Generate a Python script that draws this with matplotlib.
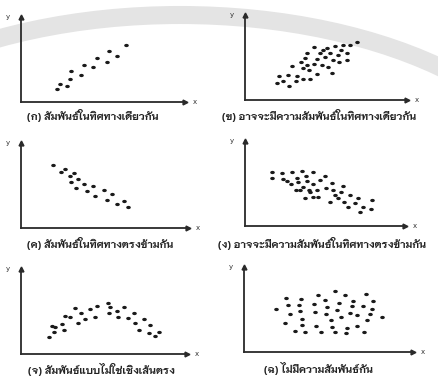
import matplotlib
matplotlib.use("Agg")
import matplotlib.pyplot as plt
import numpy as np
from matplotlib.patches import Arc
from matplotlib.path import Path

# ---- data (units = offsets from each panel's origin) ----
p1_x = [36, 39.3, 46, 49.3, 50.3, 60.3, 63.7, 72.7, 76.7, 86, 88.3, 96, 105.3]
p1_y = [12.7, 18.3, 15.7, 23.3, 31, 26.7, 37.3, 34.7, 44.3, 40, 50.7, 45.7, 57.3]

p2_x = [31.7, 34.3, 37.7, 43.3, 44.3, 46.7, 51, 52.3, 56, 58.3, 60, 62.3, 64.3, 65, 69, 69,
        71.7, 72.3, 75, 76.7, 80, 82.3, 83.3, 85, 86.7, 87.7, 90, 93.3, 94.3, 95.7, 97.7,
        101.7, 102.3, 105, 112.3, 57.7, 61.7, 78.3]
p2_y = [16.7, 24, 19.3, 25, 14.3, 34, 19, 24, 38.3, 21, 41.7, 46.7, 30, 20.7, 52.7, 35.7,
        41.3, 26, 46.7, 35, 42.7, 52.3, 32.7, 47.3, 27.3, 40, 54.3, 45, 38.3, 50, 55,
        46.7, 40, 55, 58.3, 31.7, 35, 50]

p3_x = [32, 40, 44.3, 48.7, 53.3, 50, 56.7, 55.3, 62.7, 66, 72, 74.3, 83.3, 86, 91, 96, 102.7, 106.7]
p3_y = [63.3, 55.7, 59, 51.7, 55, 45.7, 49, 40, 44.3, 37.3, 42.3, 32.3, 37.7, 28.3, 34.3, 24, 27.3, 21]

p4_x = [26.7, 26.7, 36.7, 37.7, 42.3, 45.7, 46.7, 51.7, 53.3, 56.7, 61, 61.7, 58.3, 64.3, 68.3,
        68.3, 71.7, 75, 73.3, 80, 81, 86.7, 87.7, 90, 85, 93.3, 95.7, 98.3, 99, 103.3, 105,
        110, 113.3, 115, 117.7, 126.7, 125.7, 60, 68.3, 65, 55, 51]
p4_y = [54.3, 48.3, 52.7, 47, 45, 41.7, 53.7, 48.3, 44.3, 55, 50.3, 45, 39.3, 36, 54.3,
        41.7, 36, 46, 29.3, 50.3, 38.3, 42.7, 36, 31, 24.3, 27.7, 34.3, 40.3, 23.7, 19.3, 31,
        22.7, 27.7, 13.7, 19.3, 26, 17, 27.7, 29.3, 34.3, 36, 36]

p5_x = [27.7, 31, 33.3, 34.3, 41, 42.7, 44.3, 49.3, 54.3, 56.7, 60, 64.3, 69.3, 74.3, 76,
        86.7, 87.7, 89.3, 96, 96.7, 103.3, 106.7, 113.3, 114.3, 117.7, 122.7, 127.7, 129.3,
        134.3, 137.7]
p5_y = [16.7, 28.3, 21.7, 27.3, 30, 24, 38.3, 36.7, 45.7, 30.7, 40.7, 35, 45, 37.3, 48.3,
        50.7, 40.7, 46.7, 43.3, 36.7, 47.3, 36, 41, 30.7, 24, 35, 20.7, 29.3,
        17.7, 21.7]

p6_x = [32, 41, 42, 44.3, 46, 51, 55, 56, 57, 57.7, 61, 57.7, 70, 71, 72, 73.7, 76.7, 81, 82,
        82.7, 86.7, 87.7, 91, 91, 93.3, 95.3, 96.7, 101, 102, 103.3, 107.7, 109.3, 112.7,
        113.3, 118.7, 120, 122, 122.7, 126, 127.7, 128.7, 137.7, 106]
p6_y = [42.7, 29, 54.3, 46.7, 38.3, 21.3, 46.7, 40.7, 53.3, 33.3, 20, 27.3, 47.7, 40, 26,
        56.7, 20, 51.7, 38.3, 45, 31.7, 25, 60.7, 20, 42.3, 49, 35, 56.7, 19, 24, 45.7, 50.7,
        36.7, 26, 46, 20, 58.3, 31.7, 38.3, 43.3, 50.7, 35, 39]

captions = [
    "(ก) สัมพันธ์ในทิศทางเดียวกัน",
    "(ข) อาจจะมีความสัมพันธ์ในทิศทางเดียวกัน",
    "(ค) สัมพันธ์ในทิศทางตรงข้ามกัน",
    "(ง) อาจจะมีความสัมพันธ์ในทิศทางตรงข้ามกัน",
    "(จ) สัมพันธ์แบบไม่ใช่เชิงเส้นตรง",
    "(ฉ) ไม่มีความสัมพันธ์กัน",
]

# ---- layout (pixels) ----
FW, FH = 439, 381
fig = plt.figure(figsize=(FW / 100, FH / 100), dpi=100)
fig.patch.set_facecolor("white")

# faint watermark arc in the background
bg = fig.add_axes([0, 0, 1, 1], zorder=-10)
bg.set_xlim(0, FW)
bg.set_ylim(FH, 0)
bg.axis("off")
bg.add_patch(Arc((180, 215), 772, 400, theta1=180, theta2=360,
                 color="#e4e4e4", lw=13))

# flattened elliptical dot marker (like the scanned dots)
t = np.linspace(0, 2 * np.pi, 25)
dot = Path(np.column_stack([1.4 * np.cos(t), np.sin(t)]), closed=True)

panels = [
    (p1_x, p1_y, 20.7, 102, 164),
    (p2_x, p2_y, 245, 100, 162),
    (p3_x, p3_y, 21, 228, 167),
    (p4_x, p4_y, 245, 226, 160),
    (p5_x, p5_y, 21, 354, 166),
    (p6_x, p6_y, 244, 352, 169),
]
H = 85
cap_pos = [(27, 116), (222, 116), (27, 243), (218, 243), (28, 369), (264, 368)]

for (xs, ys, ox, oy, W), cap, (cx, cy) in zip(panels, captions, cap_pos):
    ax = fig.add_axes([ox / FW, (FH - oy) / FH, W / FW, H / FH])
    ax.set_xlim(0, W)
    ax.set_ylim(0, H)
    ax.patch.set_alpha(0)
    for s in ("top", "right"):
        ax.spines[s].set_visible(False)
    for s in ("left", "bottom"):
        ax.spines[s].set_color("#2a2a2a")
        ax.spines[s].set_linewidth(1.3)
    ax.set_xticks([])
    ax.set_yticks([])
    ax.plot(1, 0, ">", color="#2a2a2a", ms=3.5, transform=ax.transAxes, clip_on=False)
    ax.plot(0, 1, "^", color="#2a2a2a", ms=3.5, transform=ax.transAxes, clip_on=False)
    ax.text(1.06, 0, "x", transform=ax.transAxes, fontsize=5, ha="center", va="center",
            color="#333333")
    ax.text(-0.08, 1.0, "y", transform=ax.transAxes, fontsize=5, ha="center", va="center",
            color="#333333")
    ax.scatter(xs, ys, s=11, color="#1a1a1a", marker=dot, linewidths=0)
    fig.text(cx / FW, 1 - cy / FH, cap, family=["Niramit", "DejaVu Sans"],
             fontsize=7.6, fontweight="bold", color="#222222", ha="left", va="center")

fig.savefig("out.png", dpi=100, facecolor="white")
